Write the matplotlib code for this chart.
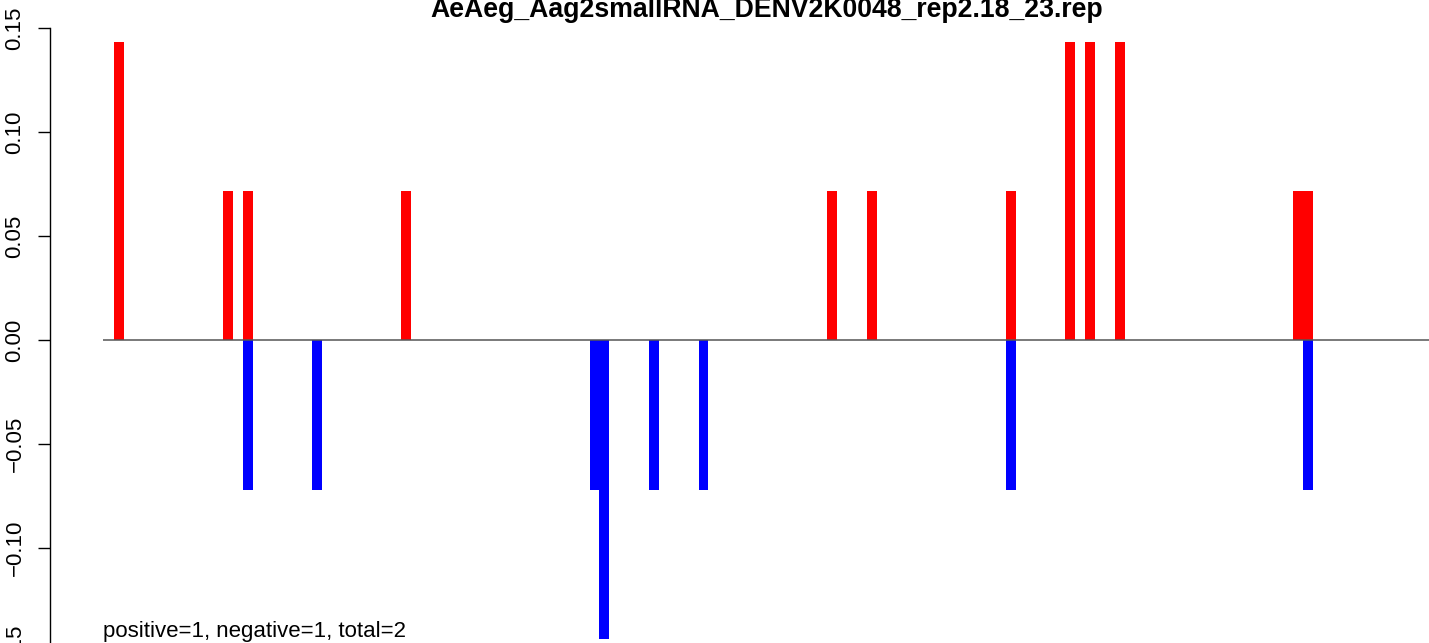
import matplotlib
matplotlib.use('Agg')
import matplotlib.pyplot as plt

plt.rcParams['font.family'] = ['Liberation Sans', 'DejaVu Sans']

# ---- data ----
title = "AeAeg_Aag2smallRNA_DENV2K0048_rep2.18_23.rep"
note = "positive=1, negative=1, total=2"
pos_positions = [0, 11, 13, 29, 72, 76, 90, 96, 98, 101, 119, 120]
pos_values = [0.1436, 0.0718, 0.0718, 0.0718, 0.0718, 0.0718, 0.0718,
              0.1436, 0.1436, 0.1436, 0.0718, 0.0718]
neg_positions = [13, 20, 48, 49, 54, 59, 90, 120]
neg_values = [-0.0718, -0.0718, -0.0718, -0.1436, -0.0718, -0.0718,
              -0.0718, -0.0718]
yticks = [-0.15, -0.10, -0.05, 0.00, 0.05, 0.10, 0.15]

# ---- layout (pixel geometry) ----
W, H = 1429, 643
DPI = 100
px_per_unit_x = 9.908
x0_px = 114.0
axis_px = 50.0
zero_px = 340.3
px_per_unit_y = 2080.0
tick_len = 8.6
tick_pad = 9

fig = plt.figure(figsize=(W / DPI, H / DPI), dpi=DPI)
ax = fig.add_axes([axis_px / W, 0, 1 - axis_px / W, 1])

ax.bar(pos_positions, pos_values, width=1, align='edge', color='#FF0000',
       linewidth=0)
ax.bar(neg_positions, neg_values, width=1, align='edge', color='#0000FF',
       linewidth=0)

for s in ['top', 'right', 'bottom']:
    ax.spines[s].set_visible(False)
ax.spines['left'].set_bounds(-0.15, 0.15)
ax.spines['left'].set_linewidth(1.0)
ax.set_xticks([])
ax.set_yticks(yticks)
labels = [f"{v:.2f}".replace('-', '\u2212') for v in yticks]
ax.set_yticklabels(labels, rotation=90, va='center', fontsize=16)
ax.tick_params(axis='y', length=tick_len, width=1.0, pad=tick_pad)

xlim = ((axis_px - x0_px) / px_per_unit_x, (W - x0_px) / px_per_unit_x)
ylim = ((zero_px - H) / px_per_unit_y, zero_px / px_per_unit_y)

line_start = (103.0 - x0_px) / px_per_unit_x
ax.hlines(0, line_start, xlim[1] + 5, color='#555555', lw=1.1, zorder=3)
ax.set_xlim(*xlim)
ax.set_ylim(*ylim)

# tick labels whose ticks fall just outside the visible range (partly shown)
trans, _, _ = ax.get_yaxis_text1_transform(tick_len + tick_pad)
for v, lab in zip(yticks, labels):
    if not (ylim[0] <= v <= ylim[1]):
        ax.text(0, v, lab, transform=trans, rotation=90, ha='right',
                va='center', fontsize=16, clip_on=False)

fig.text(767 / W, 1 - 17 / H, title, ha='center', va='baseline',
         fontsize=19.2, fontweight='bold')
fig.text(103 / W, 1 - 637 / H, note, ha='left', va='baseline', fontsize=16)

fig.savefig('out.png', dpi=DPI)
